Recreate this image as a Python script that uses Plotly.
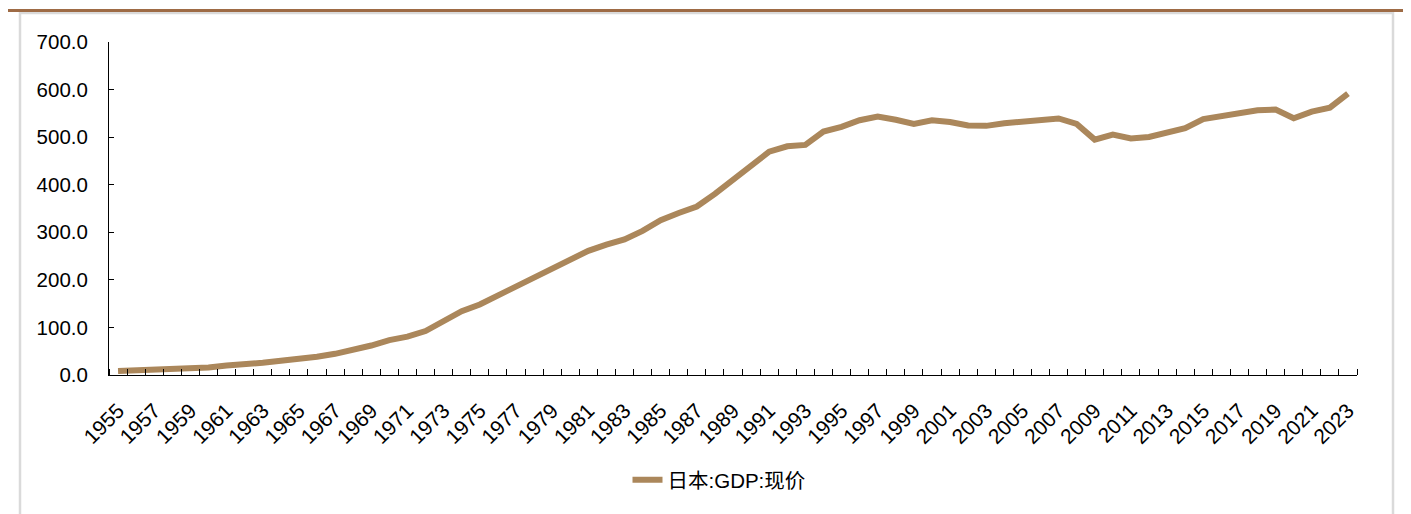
import plotly.graph_objects as go

years = list(range(1955, 2024))
gdp = [8.4, 9.4, 10.9, 11.7, 13.4, 16.0, 19.9, 22.0, 25.6, 30.0,
       32.9, 38.2, 44.5, 52.8, 62.0, 73.3, 80.7, 92.4, 112.5, 134.2,
       148.3, 166.6, 185.6, 204.4, 221.5, 242.8, 261.1, 274.1, 285.1, 302.9,
       325.4, 340.6, 354.2, 380.7, 410.1, 442.8, 469.4, 480.8, 483.7, 511.9,
       521.6, 535.6, 543.5, 536.5, 528.0, 535.4, 531.7, 524.5, 523.7, 529.4,
       532.5, 535.2, 539.3, 527.8, 494.9, 505.5, 497.4, 500.5, 508.7, 518.8,
       538.0, 544.4, 553.1, 556.6, 557.9, 539.8, 553.6, 561.9, 591.5]
series_name = "日本:GDP:现价"
label_years = years[::2]
y_ticks = [0, 100, 200, 300, 400, 500, 600, 700]

OFF = 8  # page body margin
W, H = 1411 - OFF, 514 - OFF
L, T = 109 - OFF, 42 - OFF
R = W - (1357 - OFF)
B = H - (375 - OFF)
pw, ph = W - L - R, H - T - B

def px_x(x):  # screen pixel -> paper
    return (x - OFF - L) / pw

def px_y(y):
    return (H - B - (y - OFF)) / ph

FONT = "Liberation Sans, Arial, Noto Sans CJK SC, sans-serif"
LINE_COLOR = "#AB875B"
FS = 20.5

fig = go.Figure()
fig.add_trace(go.Scatter(
    x=years, y=gdp, mode="lines", name=series_name,
    line=dict(color=LINE_COLOR, width=6),
))

fig.update_layout(
    width=W, height=H,
    margin=dict(l=L, r=R, t=T, b=B, autoexpand=False),
    paper_bgcolor="white", plot_bgcolor="white",
    font=dict(family=FONT, size=FS, color="#000000"),
    showlegend=True,
    legend=dict(
        orientation="h", x=px_x(719), y=px_y(480),
        xanchor="center", yanchor="middle",
        font=dict(family=FONT, size=FS, color="#000000"),
        bgcolor="rgba(0,0,0,0)",
    ),
    xaxis=dict(
        type="linear",
        range=[years[0] - 0.5, years[-1] + 0.5],
        tickmode="array", tickvals=label_years,
        ticktext=[str(y) for y in label_years],
        tickangle=-45, ticks="", showgrid=False, zeroline=False,
        showline=True, linecolor="#000000", linewidth=1,
        ticklabelstandoff=14,
        minor=dict(ticks="inside", ticklen=6, tickcolor="#000000",
                   tickwidth=1, tickmode="linear", tick0=0.5, dtick=1,
                   showgrid=False),
        tickfont=dict(family=FONT, size=21),
    ),
    yaxis=dict(
        range=[0, 700], tickmode="array", tickvals=y_ticks,
        ticktext=[f"{v:.1f}" for v in y_ticks],
        ticks="inside", ticklen=5, tickcolor="#000000",
        showgrid=False, zeroline=False,
        showline=True, linecolor="#000000", linewidth=1,
        ticklabelstandoff=16,
        tickfont=dict(family=FONT, size=FS),
    ),
)

# frame: grey box and brown top rule
fig.add_shape(type="rect", xref="paper", yref="paper",
              x0=px_x(20), x1=px_x(1393), y0=px_y(530), y1=px_y(13),
              line=dict(color="#DADADA", width=2.5), fillcolor="rgba(0,0,0,0)",
              layer="below")
fig.add_shape(type="line", xref="paper", yref="paper",
              x0=px_x(6), x1=px_x(1415), y0=px_y(10.5), y1=px_y(10.5),
              line=dict(color="#9E6B45", width=3))

fig.write_html("out.html")
